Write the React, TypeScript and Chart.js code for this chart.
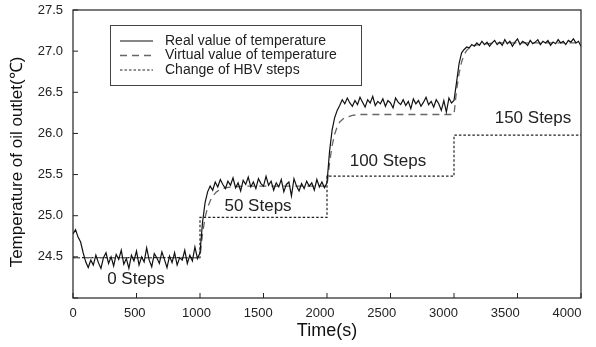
import React, { useEffect, useRef } from "react";
import { Chart, registerables } from "chart.js";

Chart.register(...registerables);

// ---- data ----
const timeStep = 20; // seconds between samples of the measured series
const realValues: number[] = [
  // 0 .. 980 s (0 steps)
  24.78, 24.83, 24.74, 24.68, 24.55, 24.44, 24.37, 24.46, 24.40, 24.52,
  24.43, 24.36, 24.49, 24.55, 24.42, 24.50, 24.39, 24.53, 24.47, 24.58,
  24.41, 24.48, 24.36, 24.52, 24.45, 24.57, 24.40, 24.50, 24.44, 24.61,
  24.46, 24.38, 24.54, 24.49, 24.42, 24.56, 24.47, 24.37, 24.51, 24.43,
  24.55, 24.40, 24.49, 24.46, 24.58, 24.42, 24.52, 24.45, 24.62, 24.48,
  // 1000 .. 1980 s (50 steps)
  24.55, 24.92, 25.16, 25.29, 25.36, 25.31, 25.41, 25.35, 25.44, 25.38,
  25.33, 25.42, 25.37, 25.46, 25.34, 25.40, 25.30, 25.43, 25.38, 25.47,
  25.35, 25.41, 25.33, 25.45, 25.39, 25.36, 25.48, 25.37, 25.42, 25.31,
  25.40, 25.35, 25.44, 25.29, 25.38, 25.41, 25.24, 25.45, 25.36, 25.30,
  25.39, 25.33, 25.42, 25.36, 25.40, 25.31, 25.44, 25.35, 25.41, 25.34,
  // 2000 .. 2980 s (100 steps)
  25.40, 25.78, 26.04, 26.19, 26.28, 26.34, 26.41, 26.36, 26.43, 26.37,
  26.33, 26.40, 26.35, 26.44, 26.38, 26.32, 26.41, 26.37, 26.45, 26.34,
  26.39, 26.36, 26.42, 26.33, 26.40, 26.37, 26.31, 26.43, 26.38, 26.35,
  26.41, 26.34, 26.39, 26.30, 26.42, 26.36, 26.40, 26.33, 26.38, 26.44,
  26.35, 26.39, 26.32, 26.41, 26.36, 26.28, 26.40, 26.26, 26.43, 26.37,
  // 3000 .. 4000 s (150 steps)
  26.40, 26.62, 26.85, 26.98, 27.02, 27.05, 27.04, 27.08, 27.06, 27.10,
  27.07, 27.12, 27.08, 27.11, 27.06, 27.10, 27.13, 27.08, 27.11, 27.07,
  27.14, 27.09, 27.12, 27.06, 27.11, 27.15, 27.08, 27.12, 27.10, 27.07,
  27.13, 27.09, 27.11, 27.14, 27.08, 27.12, 27.10, 27.13, 27.07, 27.11,
  27.09, 27.14, 27.10, 27.12, 27.08, 27.13, 27.11, 27.15, 27.10, 27.12,
  27.06,
];

const virtualTimes: number[] = [
  0, 1000, 1020, 1040, 1060, 1080, 1100, 1130, 1160, 1200, 1260, 1350,
  2000, 2020, 2040, 2060, 2080, 2100, 2130, 2160, 2200, 2260, 2350,
  3000, 3020, 3040, 3060, 3080, 3100, 3130, 3160, 3200, 3260, 3350, 4000,
];
const virtualValues: number[] = [
  24.49, 24.49, 24.78, 24.98, 25.10, 25.18, 25.24, 25.29, 25.32, 25.34, 25.35, 25.36,
  25.36, 25.64, 25.85, 25.99, 26.08, 26.14, 26.18, 26.20, 26.22, 26.23, 26.23,
  26.23, 26.52, 26.73, 26.87, 26.96, 27.01, 27.05, 27.07, 27.08, 27.09, 27.10, 27.10,
];

const stepTimes: number[] = [0, 1000, 2000, 3000, 4000];
const stepValues: number[] = [24.49, 24.98, 25.48, 25.98, 25.98];

const annotationLabels: string[] = ["0 Steps", "50 Steps", "100 Steps", "150 Steps"];
const annotationTimes: number[] = [496, 1457, 2480, 3622];
const annotationValues: number[] = [24.23, 25.11, 25.66, 26.18];

const legendLabels: string[] = [
  "Real value of temperature",
  "Virtual value of temperature",
  "Change of HBV steps",
];

const xTicks: number[] = [0, 500, 1000, 1500, 2000, 2500, 3000, 3500, 4000];
const yTicks: number[] = [24.0, 24.5, 25.0, 25.5, 26.0, 26.5, 27.0, 27.5];
const yTickLabels: string[] = ["", "24.5", "25.0", "25.5", "26.0", "26.5", "27.0", "27.5"];
const yMin = 24.0;
const yMax = 27.5;

const xTitle = "Time(s)";
const yTitle = "Temperature of oil outlet(\u2103)";

const FONT = "Arial, 'Liberation Sans', Helvetica, sans-serif";

const framePlugin = {
  id: "frameAndExtras",
  afterDatasetsDraw(chart: any) {
    const { ctx, chartArea, scales } = chart;
    const { left, right, top, bottom } = chartArea;
    ctx.save();
    // frame
    ctx.strokeStyle = "#222";
    ctx.lineWidth = 1.2;
    ctx.setLineDash([]);
    ctx.strokeRect(left, top, right - left, bottom - top);
    // inside ticks
    ctx.lineWidth = 1;
    ctx.beginPath();
    xTicks.forEach((t) => {
      const x = scales.x.getPixelForValue(t);
      ctx.moveTo(x, bottom);
      ctx.lineTo(x, bottom - 5);
    });
    yTicks.forEach((v) => {
      const y = scales.y.getPixelForValue(v);
      ctx.moveTo(left, y);
      ctx.lineTo(left + 5, y);
    });
    ctx.stroke();

    // tick labels
    ctx.fillStyle = "#222";
    ctx.font = `13px ${FONT}`;
    ctx.textAlign = "center";
    ctx.textBaseline = "middle";
    xTicks.forEach((t) => {
      const x = scales.x.getPixelForValue(t) - t * 0.0035;
      ctx.fillText(String(t), x, bottom + 15);
    });
    ctx.textAlign = "right";
    yTicks.forEach((v, i) => {
      ctx.fillText(yTickLabels[i], left - 10, scales.y.getPixelForValue(v));
    });

    // axis titles
    ctx.fillStyle = "#111";
    ctx.font = `18px ${FONT}`;
    ctx.textAlign = "center";
    ctx.fillText(xTitle, (left + right) / 2, bottom + 33);
    ctx.save();
    ctx.translate(17, (top + bottom) / 2 + 8);
    ctx.rotate(-Math.PI / 2);
    ctx.font = `17px ${FONT}`;
    ctx.fillText(yTitle, 0, 0);
    ctx.restore();

    // annotations
    ctx.fillStyle = "#222";
    ctx.font = `17px ${FONT}`;
    ctx.textAlign = "center";
    ctx.textBaseline = "middle";
    annotationLabels.forEach((lab, i) => {
      ctx.fillText(
        lab,
        scales.x.getPixelForValue(annotationTimes[i]),
        scales.y.getPixelForValue(annotationValues[i])
      );
    });

    // legend
    const bx = left + 37;
    const by = top + 15;
    const bw = 251;
    const bh = 60;
    ctx.fillStyle = "#fff";
    ctx.fillRect(bx, by, bw, bh);
    ctx.strokeStyle = "#444";
    ctx.lineWidth = 1;
    ctx.strokeRect(bx + 0.5, by + 0.5, bw, bh);
    const styles = [
      { color: "#111", dash: [] as number[], width: 1.2 },
      { color: "#666", dash: [7, 5], width: 1.3 },
      { color: "#222", dash: [2.5, 2], width: 1.2 },
    ];
    ctx.font = `14px ${FONT}`;
    ctx.textAlign = "left";
    ctx.textBaseline = "middle";
    legendLabels.forEach((lab, i) => {
      const yy = by + 16 + i * 14.5;
      ctx.beginPath();
      ctx.strokeStyle = styles[i].color;
      ctx.lineWidth = styles[i].width;
      ctx.setLineDash(styles[i].dash);
      ctx.moveTo(bx + 10, yy);
      ctx.lineTo(bx + 43, yy);
      ctx.stroke();
      ctx.setLineDash([]);
      ctx.fillStyle = "#222";
      ctx.fillText(lab, bx + 55, yy);
    });
    ctx.restore();
  },
};

export default function App() {
  const canvasRef = useRef<HTMLCanvasElement | null>(null);

  useEffect(() => {
    const canvas = canvasRef.current;
    if (!canvas) return;
    const realData = realValues.map((v, i) => ({ x: i * timeStep, y: v }));
    const virtualData = virtualTimes.map((t, i) => ({ x: t, y: virtualValues[i] }));
    const stepData = stepTimes.map((t, i) => ({ x: t, y: stepValues[i] }));

    const chart = new Chart(canvas, {
      type: "line",
      data: {
        datasets: [
          {
            label: legendLabels[0],
            data: realData,
            borderColor: "#111",
            borderWidth: 1.2,
            pointRadius: 0,
            tension: 0,
            order: 0,
          },
          {
            label: legendLabels[1],
            data: virtualData,
            borderColor: "#666",
            borderWidth: 1.3,
            borderDash: [7, 5],
            pointRadius: 0,
            tension: 0,
            order: 1,
          },
          {
            label: legendLabels[2],
            data: stepData,
            borderColor: "#222",
            borderWidth: 1.2,
            borderDash: [2.5, 2],
            pointRadius: 0,
            stepped: "before",
            order: 2,
          },
        ],
      },
      options: {
        animation: false,
        responsive: false,
        parsing: false,
        layout: { padding: { left: 0, right: 15, top: 10, bottom: 0 } },
        plugins: {
          legend: { display: false },
          tooltip: { enabled: false },
        },
        scales: {
          x: {
            type: "linear",
            min: 0,
            max: 4000,
            afterFit: (s: any) => {
              s.height = 49;
            },
            grid: { display: false, drawTicks: false },
            border: { display: false },
            ticks: { display: false },
            title: { display: false },
          },
          y: {
            type: "linear",
            min: yMin,
            max: yMax,
            afterFit: (s: any) => {
              s.width = 73;
            },
            grid: { display: false, drawTicks: false },
            border: { display: false },
            ticks: { display: false },
            title: { display: false },
          },
        },
      },
      plugins: [framePlugin],
    });
    return () => chart.destroy();
  }, []);

  return (
    <div style={{ position: "absolute", left: 0, top: 0, width: 596, height: 347, background: "#fff" }}>
      <canvas ref={canvasRef} width={596} height={347} style={{ display: "block" }} />
    </div>
  );
}
